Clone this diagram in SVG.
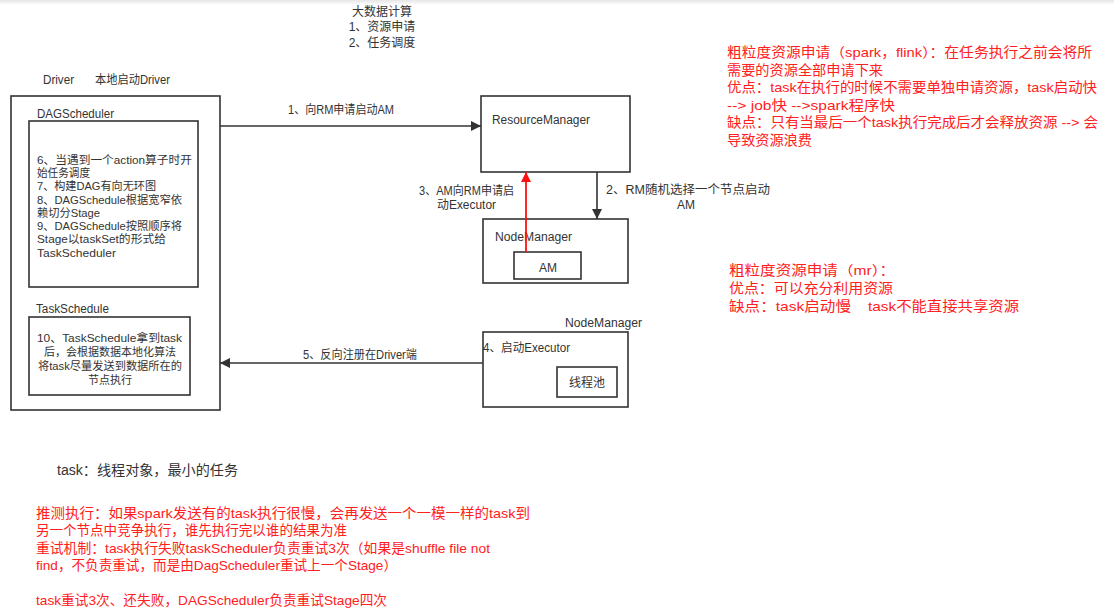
<svg xmlns="http://www.w3.org/2000/svg" width="1114" height="614" viewBox="0 0 1114 614">
<style>
text{font-family:"Liberation Sans","Noto Sans CJK SC",sans-serif;}
.t{font-size:12px;fill:#333;}
.s{font-size:11.5px;fill:#333;}
.r{font-size:13.5px;fill:#ff2020;}
.box{fill:#fff;stroke:#333;stroke-width:1.6;}
.ln{fill:none;stroke:#333;stroke-width:1.6;}
.red{fill:none;stroke:#ff1010;stroke-width:1.8;}
</style>
<defs>
<linearGradient id="sh" x1="0" y1="0" x2="0" y2="1">
<stop offset="0" stop-color="#e6e6e6"/>
<stop offset="1" stop-color="#ffffff"/>
</linearGradient>
<marker id="ab" viewBox="0 0 10 10" refX="10" refY="5" markerWidth="11" markerHeight="10" markerUnits="userSpaceOnUse" orient="auto">
<path d="M0,0 L10,5 L0,10 z" fill="#333"/>
</marker>
<marker id="ar" viewBox="0 0 10 10" refX="10" refY="5" markerWidth="11" markerHeight="10" markerUnits="userSpaceOnUse" orient="auto">
<path d="M0,0 L10,5 L0,10 z" fill="#ff1010"/>
</marker>
</defs>
<rect x="0" y="0" width="1114" height="614" fill="#fff"/>
<rect x="0" y="0" width="1114" height="5" fill="url(#sh)"/>

<g id="title">
<text class="t" text-anchor="middle"><tspan x="382" y="16">大数据计算</tspan><tspan x="382" y="31">1、资源申请</tspan><tspan x="382" y="47">2、任务调度</tspan></text>
</g>

<g id="driver">
<text class="t" x="43" y="84" textLength="31" lengthAdjust="spacingAndGlyphs">Driver</text>
<text class="t" x="95" y="84" textLength="75" lengthAdjust="spacingAndGlyphs">本地启动Driver</text>
<rect class="box" x="11" y="96" width="209" height="314"/>
</g>
<g id="dagscheduler">
<text class="t" x="37" y="118" textLength="77" lengthAdjust="spacingAndGlyphs">DAGScheduler</text>
<rect class="box" x="29" y="121" width="169" height="166"/>
<text class="s">
<tspan x="37" y="164" textLength="155" lengthAdjust="spacingAndGlyphs">6、当遇到一个action算子时开</tspan>
<tspan x="37" y="177" textLength="53" lengthAdjust="spacingAndGlyphs">始任务调度</tspan>
<tspan x="37" y="190" textLength="119" lengthAdjust="spacingAndGlyphs">7、构建DAG有向无环图</tspan>
<tspan x="37" y="204" textLength="145" lengthAdjust="spacingAndGlyphs">8、DAGSchedule根据宽窄依</tspan>
<tspan x="37" y="217" textLength="63" lengthAdjust="spacingAndGlyphs">赖切分Stage</tspan>
<tspan x="37" y="230" textLength="145" lengthAdjust="spacingAndGlyphs">9、DAGSchedule按照顺序将</tspan>
<tspan x="37" y="243" textLength="129" lengthAdjust="spacingAndGlyphs">Stage以taskSet的形式给</tspan>
<tspan x="37" y="257" textLength="79" lengthAdjust="spacingAndGlyphs">TaskScheduler</tspan>
</text>
</g>
<g id="taskschedule">
<text class="t" x="36" y="313" textLength="73" lengthAdjust="spacingAndGlyphs">TaskSchedule</text>
<rect class="box" x="29" y="317" width="161" height="78"/>
<text class="s">
<tspan x="37" y="342" textLength="145" lengthAdjust="spacingAndGlyphs">10、TaskSchedule拿到task</tspan>
<tspan x="44" y="356" textLength="132" lengthAdjust="spacingAndGlyphs">后，会根据数据本地化算法</tspan>
<tspan x="38" y="370" textLength="144" lengthAdjust="spacingAndGlyphs">将task尽量发送到数据所在的</tspan>
<tspan x="88" y="384" textLength="44" lengthAdjust="spacingAndGlyphs">节点执行</tspan>
</text>
</g>

<g id="resourcemanager">
<rect class="box" x="481" y="96" width="149" height="76"/>
<text class="t" x="492" y="124" textLength="98" lengthAdjust="spacingAndGlyphs">ResourceManager</text>
</g>
<g id="nodemanager1">
<rect class="box" x="483" y="219" width="145" height="64"/>
<text class="t" x="495" y="241" textLength="77" lengthAdjust="spacingAndGlyphs">NodeManager</text>
</g>
<g id="am">
<rect class="box" x="514" y="252" width="67" height="27"/>
<text class="t" x="548" y="272" text-anchor="middle">AM</text>
</g>
<g id="nodemanager2">
<text class="t" x="565" y="327" textLength="77" lengthAdjust="spacingAndGlyphs">NodeManager</text>
<rect class="box" x="483" y="332" width="145" height="75"/>
<text class="t" x="483" y="352" textLength="87" lengthAdjust="spacingAndGlyphs">4、启动Executor</text>
</g>
<g id="threadpool">
<rect class="box" x="557" y="367" width="60" height="30"/>
<text class="t" x="587" y="387" text-anchor="middle">线程池</text>
</g>

<g id="connectors">
<line class="ln" x1="220" y1="126" x2="481" y2="126" marker-end="url(#ab)"/>
<line class="ln" x1="597" y1="172" x2="597" y2="219" marker-end="url(#ab)"/>
<line class="red" x1="526" y1="252" x2="526" y2="172" marker-end="url(#ar)"/>
<line class="ln" x1="483" y1="363" x2="220" y2="363" marker-end="url(#ab)"/>
<text class="t" x="288" y="114" textLength="106" lengthAdjust="spacingAndGlyphs">1、向RM申请启动AM</text>
<text class="t"><tspan x="606" y="194" textLength="164" lengthAdjust="spacingAndGlyphs">2、RM随机选择一个节点启动</tspan><tspan x="677" y="209">AM</tspan></text>
<text class="t"><tspan x="419" y="195" textLength="95" lengthAdjust="spacingAndGlyphs">3、AM向RM申请启</tspan><tspan x="437" y="209" textLength="59" lengthAdjust="spacingAndGlyphs">动Executor</tspan></text>
<text class="t" x="303" y="359" textLength="114" lengthAdjust="spacingAndGlyphs">5、反向注册在Driver端</text>
</g>

<g id="notes-right">
<text class="r">
<tspan x="727" y="57" textLength="365" lengthAdjust="spacingAndGlyphs">粗粒度资源申请（spark，flink）：在任务执行之前会将所</tspan>
<tspan x="727" y="75" textLength="156" lengthAdjust="spacingAndGlyphs">需要的资源全部申请下来</tspan>
<tspan x="727" y="92" textLength="370" lengthAdjust="spacingAndGlyphs">优点：task在执行的时候不需要单独申请资源，task启动快</tspan>
<tspan x="727" y="110" textLength="168" lengthAdjust="spacingAndGlyphs">--&gt; job快 --&gt;spark程序快</tspan>
<tspan x="727" y="127" textLength="371" lengthAdjust="spacingAndGlyphs">缺点：只有当最后一个task执行完成后才会释放资源 --&gt; 会</tspan>
<tspan x="727" y="145" textLength="85" lengthAdjust="spacingAndGlyphs">导致资源浪费</tspan>
</text>
<text class="r">
<tspan x="729" y="275" textLength="166" lengthAdjust="spacingAndGlyphs">粗粒度资源申请（mr）：</tspan>
<tspan x="729" y="293" textLength="164" lengthAdjust="spacingAndGlyphs">优点：可以充分利用资源</tspan>
<tspan x="729" y="311" textLength="122" lengthAdjust="spacingAndGlyphs">缺点：task启动慢</tspan><tspan x="868" y="311" textLength="151" lengthAdjust="spacingAndGlyphs">task不能直接共享资源</tspan>
</text>
</g>

<g id="notes-bottom">
<text x="57" y="475" style="font-size:14px;fill:#333;" textLength="181" lengthAdjust="spacingAndGlyphs">task：线程对象，最小的任务</text>
<text class="r">
<tspan x="36" y="518" textLength="494" lengthAdjust="spacingAndGlyphs">推测执行：如果spark发送有的task执行很慢，会再发送一个一模一样的task到</tspan>
<tspan x="36" y="535" textLength="311" lengthAdjust="spacingAndGlyphs">另一个节点中竞争执行，谁先执行完以谁的结果为准</tspan>
<tspan x="36" y="553" textLength="454" lengthAdjust="spacingAndGlyphs">重试机制：task执行失败taskScheduler负责重试3次（如果是shuffle file not</tspan>
<tspan x="36" y="570" textLength="361" lengthAdjust="spacingAndGlyphs">find，不负责重试，而是由DagScheduler重试上一个Stage）</tspan>
<tspan x="36" y="605" textLength="351" lengthAdjust="spacingAndGlyphs">task重试3次、还失败，DAGScheduler负责重试Stage四次</tspan>
</text>
</g>
</svg>
